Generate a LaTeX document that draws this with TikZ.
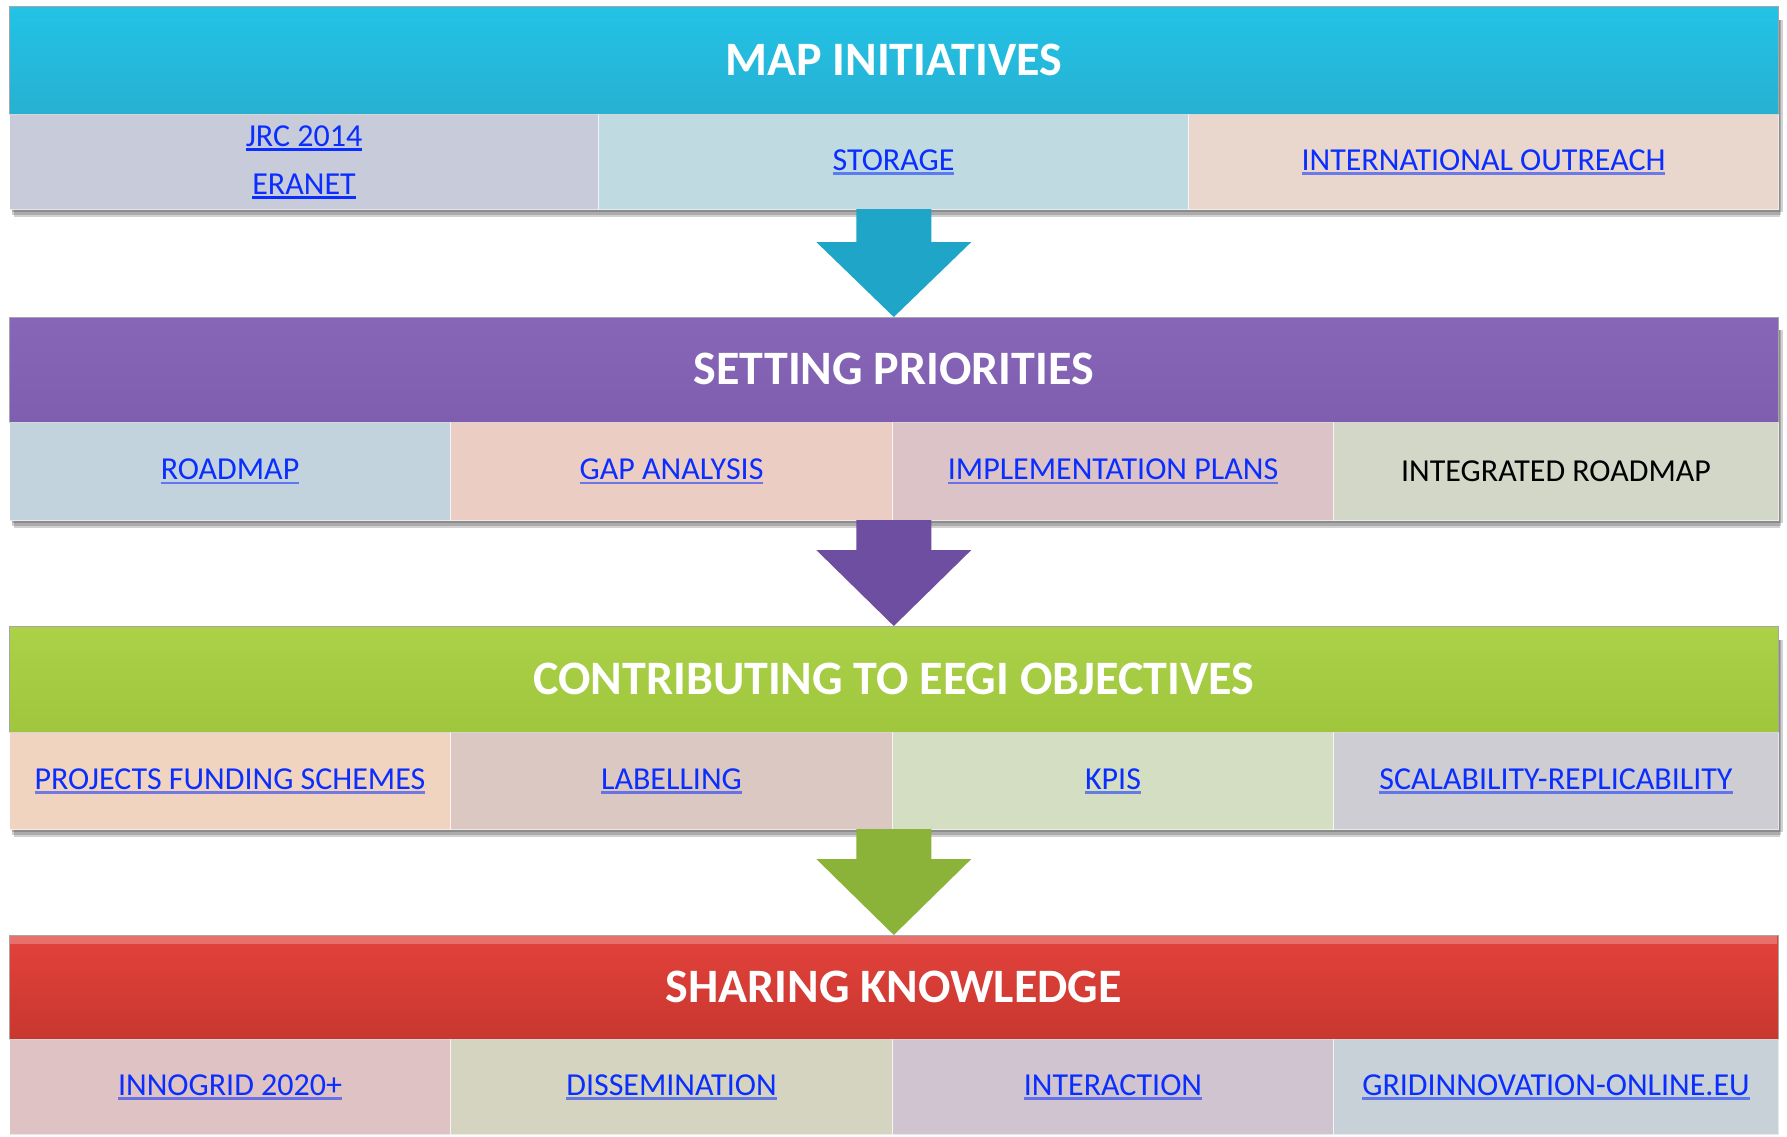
\documentclass[tikz,border=0pt]{standalone}
\usepackage{fontspec}
\setmainfont{Carlito}
\usetikzlibrary{calc}
\definecolor{linkblue}{HTML}{0A2EFF}
\definecolor{cyanTop}{HTML}{22C3E6}
\definecolor{cyanBot}{HTML}{27B0D2}
\definecolor{purTop}{HTML}{8766B8}
\definecolor{purBot}{HTML}{7F5EB0}
\definecolor{grnTop}{HTML}{AAD148}
\definecolor{grnBot}{HTML}{A0C63E}
\definecolor{redTop}{HTML}{E2423C}
\definecolor{redBot}{HTML}{C8372E}
\definecolor{arrCyan}{HTML}{1FA5C8}
\definecolor{arrPur}{HTML}{6E4EA0}
\definecolor{arrGrn}{HTML}{8BB33A}
\definecolor{cA}{HTML}{C8CBD9}
\definecolor{cB}{HTML}{C0DAE2}
\definecolor{cC}{HTML}{E9D6CC}
\definecolor{cD}{HTML}{C3D3DE}
\definecolor{cE}{HTML}{ECCDC4}
\definecolor{cF}{HTML}{DBC3C8}
\definecolor{cG}{HTML}{D2D7C8}
\definecolor{cH}{HTML}{F0D4C0}
\definecolor{cI}{HTML}{DCC8C2}
\definecolor{cJ}{HTML}{D4DEC2}
\definecolor{cK}{HTML}{CECDD4}
\definecolor{cL}{HTML}{DEC2C4}
\definecolor{cM}{HTML}{D4D4C0}
\definecolor{cN}{HTML}{D0C4D0}
\definecolor{cO}{HTML}{C8D0D8}
\newcommand\lnk[1]{\setbox0=\hbox{#1}{\color{linkblue}\rlap{\rule[-4.5pt]{\wd0}{2.6pt}}\box0}}
\tikzset{
  hdr/.style={anchor=north west, minimum width=1769pt, inner sep=0pt,
    font=\fontsize{48}{52}\selectfont\bfseries, text=white, draw=black!35, line width=0.6pt},
  cell/.style={anchor=north west, inner sep=0pt, draw=white, draw opacity=0.55, line width=1pt,
    font=\fontsize{32}{48}\selectfont, align=center},
  shad/.style={fill=black, opacity=0.18},
}
\newcommand\rowshadow[2]{%
  \fill[shad] (12,#1) rectangle (1783,#2+3);
  \fill[shad] (12,#1) rectangle (1781,#2+6);
  \fill[shad] (14,#1) rectangle (1780,#2+8);
}
\begin{document}
\begin{tikzpicture}[x=1pt,y=-1pt]
\useasboundingbox (0,0) rectangle (1787,1136);
\fill[white] (0,0) rectangle (1787,1136);

% ---------- Row 1 ----------
\rowshadow{20}{209}
\node[hdr, minimum height=108pt, top color=cyanTop, bottom color=cyanBot] (h1) at (9,6) {\raisebox{2pt}{MAP INITIATIVES}};
\node[cell, fill=cA, minimum width=589pt, minimum height=95pt] (c11) at (9,114) {};
\node[cell, fill=cB, minimum width=590pt, minimum height=95pt] (c12) at (598,114) {\lnk{STORAGE}};
\node[cell, fill=cC, minimum width=590pt, minimum height=95pt] (c13) at (1188,114) {\lnk{INTERNATIONAL OUTREACH}};
\node[font=\fontsize{32}{48}\selectfont] (t11a) at ($(c11.center)+(0,-24)$) {\lnk{JRC 2014}};
\node[font=\fontsize{32}{48}\selectfont] (t11b) at ($(c11.center)+(0,24)$) {\lnk{ERANET}};

% ---------- Row 2 ----------
\rowshadow{330}{520}
\node[hdr, minimum height=105pt, top color=purTop, bottom color=purBot] (h2) at (9,317) {\raisebox{2pt}{SETTING PRIORITIES}};
\node[cell, fill=cD, minimum width=441pt, minimum height=98pt] (c21) at (9,422) {\lnk{ROADMAP}};
\node[cell, fill=cE, minimum width=442pt, minimum height=98pt] (c22) at (450,422) {\lnk{GAP ANALYSIS}};
\node[cell, fill=cF, minimum width=441pt, minimum height=98pt] (c23) at (892,422) {\lnk{IMPLEMENTATION PLANS}};
\node[cell, fill=cG, minimum width=445pt, minimum height=98pt] (c24) at (1333,422) {INTEGRATED ROADMAP};

% ---------- Row 3 ----------
\rowshadow{640}{829}
\node[hdr, minimum height=106pt, top color=grnTop, bottom color=grnBot] (h3) at (9,626) {\raisebox{2pt}{CONTRIBUTING TO EEGI OBJECTIVES}};
\node[cell, fill=cH, minimum width=441pt, minimum height=97pt] (c31) at (9,732) {\lnk{PROJECTS FUNDING SCHEMES}};
\node[cell, fill=cI, minimum width=442pt, minimum height=97pt] (c32) at (450,732) {\lnk{LABELLING}};
\node[cell, fill=cJ, minimum width=441pt, minimum height=97pt] (c33) at (892,732) {\lnk{KPIS}};
\node[cell, fill=cK, minimum width=445pt, minimum height=97pt] (c34) at (1333,732) {\lnk{SCALABILITY-REPLICABILITY}};

% ---------- Row 4 ----------
\node[hdr, minimum height=104pt, top color=redTop, bottom color=redBot] (h4) at (9,935) {SHARING KNOWLEDGE};
\fill[white, opacity=0.25] (10,936) rectangle (1777,944);
\node[cell, fill=cL, minimum width=441pt, minimum height=95pt] (c41) at (9,1039) {\lnk{INNOGRID 2020+}};
\node[cell, fill=cM, minimum width=442pt, minimum height=95pt] (c42) at (450,1039) {\lnk{DISSEMINATION}};
\node[cell, fill=cN, minimum width=441pt, minimum height=95pt] (c43) at (892,1039) {\lnk{INTERACTION}};
\node[cell, fill=cO, minimum width=445pt, minimum height=95pt] (c44) at (1333,1039) {\lnk{GRIDINNOVATION-ONLINE.EU}};

% ---------- Arrows ----------
\fill[arrCyan] (h2.north) -- ++(-77.5,-75) -- ++(40,0) -- ++(0,-33) -- ++(75,0) -- ++(0,33) -- ++(40,0) -- cycle;
\fill[arrPur] (h3.north) -- ++(-77.5,-76) -- ++(40,0) -- ++(0,-30) -- ++(75,0) -- ++(0,30) -- ++(40,0) -- cycle;
\fill[arrGrn] (h4.north) -- ++(-77.5,-76) -- ++(40,0) -- ++(0,-30) -- ++(75,0) -- ++(0,30) -- ++(40,0) -- cycle;
\end{tikzpicture}
\end{document}
